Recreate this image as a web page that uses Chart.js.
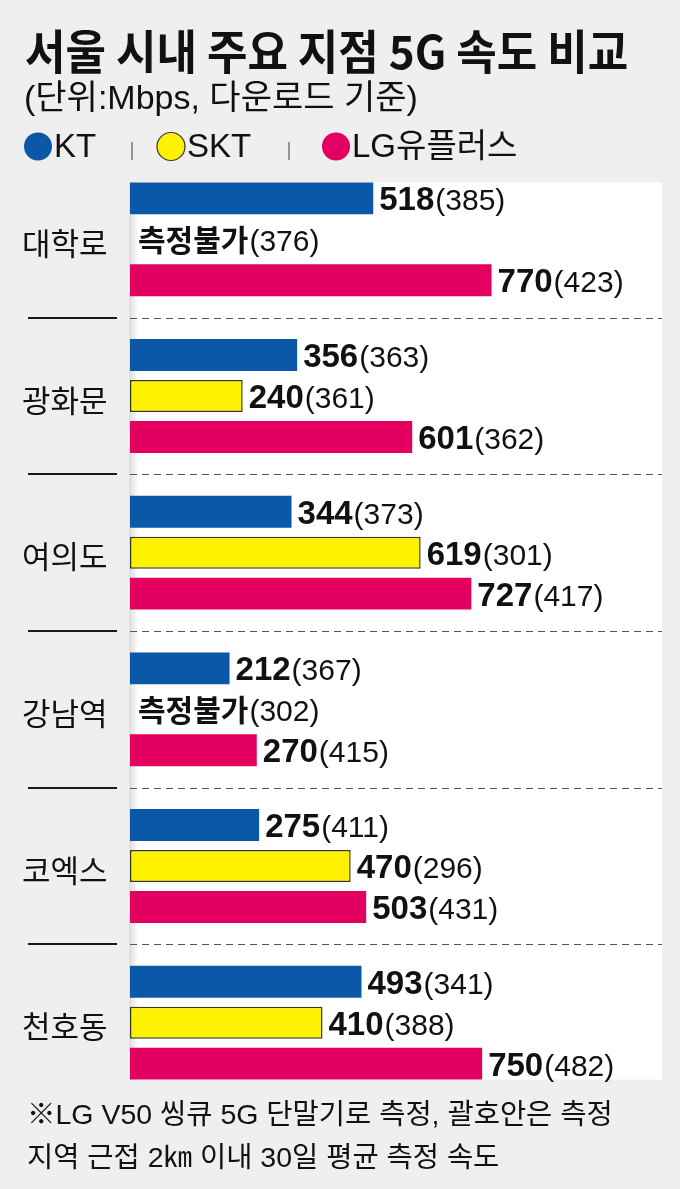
<!DOCTYPE html>
<html>
<head>
<meta charset="utf-8">
<script src="https://cdn.jsdelivr.net/npm/chart.js@4.4.1/dist/chart.umd.min.js"></script>
<style>
  html, body { margin: 0; padding: 0; background: #efefef; }
  #wrap { width: 680px; height: 1189px; position: relative; overflow: hidden; }
</style>
</head>
<body>
<div id="wrap"><canvas id="myChart" width="680" height="1189"></canvas></div>
<script>
const places = ['대학로', '광화문', '여의도', '강남역', '코엑스', '천호동'];
const ktSpeed = [518, 356, 344, 212, 275, 493];
const ktAvg = [385, 363, 373, 367, 411, 341];
const sktSpeed = [null, 240, 619, null, 470, 410];   // null = 측정불가
const sktAvg = [376, 361, 301, 302, 296, 388];
const lgSpeed = [770, 601, 727, 270, 503, 750];
const lgAvg = [423, 362, 417, 415, 431, 482];
const carriers = ['KT', 'SKT', 'LG유플러스'];

const BLUE = '#0a58a7', YELLOW = '#fff200', PINK = '#e30060';
const KR = '"Noto Sans CJK KR", "Noto Sans", sans-serif';
const LAT = '"Liberation Sans", "Noto Sans CJK KR", sans-serif';

// white panel + separators behind the bars
const panelPlugin = {
  id: 'panel',
  beforeDatasetsDraw(chart) {
    const { ctx, chartArea: area } = chart;
    const first = chart.getDatasetMeta(0).data[0];
    const last = chart.getDatasetMeta(2).data[places.length - 1];
    const top = first.y - first.height / 2;
    const bottom = last.y + last.height / 2;
    ctx.save();
    ctx.fillStyle = '#ffffff';
    ctx.fillRect(area.left - 1, top, area.right - area.left + 1, bottom - top);
    const g = ctx.createLinearGradient(area.left - 1, 0, area.left + 8, 0);
    g.addColorStop(0, 'rgba(0,0,0,0.14)');
    g.addColorStop(1, 'rgba(0,0,0,0)');
    ctx.fillStyle = g;
    ctx.fillRect(area.left - 1, top, 9, bottom - top);

    const ys = chart.scales.y;
    for (let i = 0; i < places.length - 1; i++) {
      const yy = Math.round((ys.getPixelForValue(i) + ys.getPixelForValue(i + 1)) / 2);
      ctx.setLineDash([]);
      ctx.strokeStyle = '#1a1a1a';
      ctx.lineWidth = 2;
      ctx.beginPath();
      ctx.moveTo(28, yy);
      ctx.lineTo(117, yy);
      ctx.stroke();
      ctx.setLineDash([7, 5]);
      ctx.strokeStyle = '#555';
      ctx.lineWidth = 1;
      ctx.beginPath();
      ctx.moveTo(area.left, yy + 0.5);
      ctx.lineTo(area.right, yy + 0.5);
      ctx.stroke();
    }
    ctx.restore();
  }
};

// value labels: bold speed + (average)
const labelPlugin = {
  id: 'labels',
  afterDatasetsDraw(chart) {
    const { ctx, chartArea: area } = chart;
    const avgs = [ktAvg, sktAvg, lgAvg];
    ctx.save();
    ctx.fillStyle = '#111';
    ctx.textBaseline = 'alphabetic';
    ctx.textAlign = 'left';
    chart.data.datasets.forEach((ds, di) => {
      chart.getDatasetMeta(di).data.forEach((bar, i) => {
        const v = ds.data[i];
        const base = bar.y + 12;
        let x, main;
        if (v == null) {
          x = area.left + 8;
          main = '측정불가';
          ctx.font = 'bold 30px ' + KR;
        } else {
          x = bar.x + 6;
          main = String(v);
          ctx.font = 'bold 33px ' + LAT;
        }
        ctx.fillText(main, x, base);
        x += ctx.measureText(main).width + 1;
        ctx.font = '30px ' + LAT;
        ctx.fillText('(' + avgs[di][i] + ')', x, base);
      });
    });
    ctx.restore();
  }
};

// header, legend, footnote
const textPlugin = {
  id: 'texts',
  afterDraw(chart) {
    const ctx = chart.ctx;
    ctx.save();
    ctx.fillStyle = '#111';
    ctx.textAlign = 'left';
    ctx.textBaseline = 'alphabetic';

    ctx.save();
    ctx.translate(25, 69);
    ctx.scale(1, 1.05);
    ctx.font = 'bold 44px ' + KR;
    ctx.fillText('서울 시내 주요 지점 5G 속도 비교', 0, 0);
    ctx.restore();

    ctx.font = '34px ' + LAT;
    ctx.fillText('(단위:Mbps, 다운로드 기준)', 24, 109);

    const cols = [BLUE, YELLOW, PINK];
    const cx = [38, 171, 336];
    ctx.font = '33px ' + LAT;
    carriers.forEach((c, i) => {
      ctx.beginPath();
      ctx.arc(cx[i], 146.5, 14, 0, Math.PI * 2);
      ctx.fillStyle = cols[i];
      ctx.fill();
      if (i === 1) { ctx.strokeStyle = '#333'; ctx.lineWidth = 1.2; ctx.stroke(); }
      ctx.fillStyle = '#111';
      ctx.fillText(c, cx[i] + 16, 157);
    });
    ctx.strokeStyle = '#777';
    ctx.lineWidth = 1.5;
    [132, 289].forEach(sx => {
      ctx.beginPath();
      ctx.moveTo(sx, 142);
      ctx.lineTo(sx, 160);
      ctx.stroke();
    });

    ctx.fillStyle = '#111';
    ctx.font = '28.5px ' + LAT;
    ctx.fillText('※LG V50 씽큐 5G 단말기로 측정, 괄호안은 측정', 27, 1124);
    ctx.fillText('지역 근접 2㎞ 이내 30일 평균 측정 속도', 27, 1167);
    ctx.restore();
  }
};

const ctx = document.getElementById('myChart');
const myChart = new Chart(ctx, {
  type: 'bar',
  data: {
    labels: places,
    datasets: [
      { label: carriers[0], data: ktSpeed, backgroundColor: BLUE, borderWidth: 0 },
      { label: carriers[1], data: sktSpeed, backgroundColor: YELLOW, borderColor: '#3a3a20', borderWidth: 1.5, borderSkipped: false },
      { label: carriers[2], data: lgSpeed, backgroundColor: PINK, borderWidth: 0 }
    ]
  },
  options: {
    indexAxis: 'y',
    responsive: false,
    animation: false,
    categoryPercentage: 0.784,
    barPercentage: 0.78,
    layout: { padding: { left: 22, right: 18, top: 161, bottom: 88 } },
    plugins: { legend: { display: false }, tooltip: { enabled: false } },
    scales: {
      x: { display: false, min: 0, max: 1133 },
      y: {
        grid: { display: false },
        border: { display: false },
        afterFit(scale) { scale.width = 108; },
        ticks: {
          crossAlign: 'far',
          padding: 0,
          labelOffset: 4,
          color: '#111',
          font: { family: KR, size: 31 }
        }
      }
    }
  },
  plugins: [panelPlugin, labelPlugin, textPlugin]
});
</script>
</body>
</html>
